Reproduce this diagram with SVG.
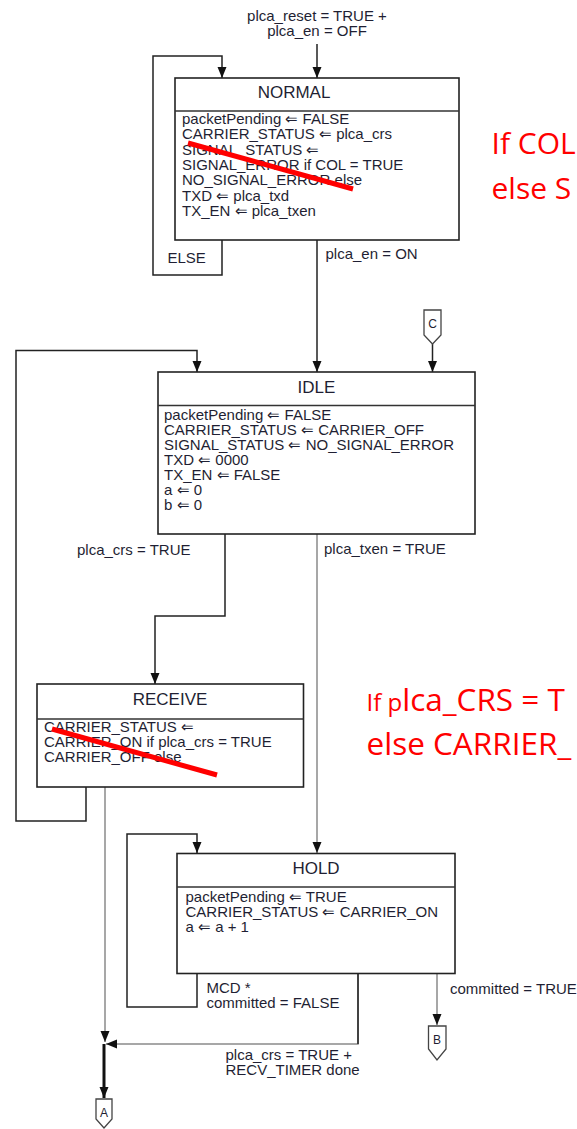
<svg xmlns="http://www.w3.org/2000/svg" width="577" height="1129" viewBox="0 0 577 1129">
<style>
.box{fill:#fff;stroke:#222;stroke-width:1.6}
.sep{stroke:#333;stroke-width:1.4}
.t{font-family:"Liberation Sans",Arial,sans-serif;font-size:15px;fill:#1f1f33}
.title{font-family:"Liberation Sans",Arial,sans-serif;font-size:17px;fill:#1f1f33;text-anchor:middle}
.lbl{font-family:"Liberation Sans",Arial,sans-serif;font-size:15px;fill:#1f1f33}
.cl{font-family:"Liberation Sans",Arial,sans-serif;font-size:12px;fill:#1f1f33;text-anchor:middle}
.e{fill:none;stroke:#222;stroke-width:1.5}
.g{fill:none;stroke:#8a8a8a;stroke-width:1.5}
.con{fill:#fff;stroke:#444;stroke-width:1.3}
.strike{stroke:#ff0000;stroke-width:5;stroke-linecap:butt}
.red{font-family:"Open Sans","Liberation Sans",sans-serif;font-size:30px;fill:#ff0000}
.red2{font-family:"Open Sans","Liberation Sans",sans-serif;font-size:31.5px;fill:#ff0000}
</style>
<defs>
<marker id="ah" markerUnits="userSpaceOnUse" markerWidth="11" markerHeight="10" refX="11" refY="5" orient="auto">
<path d="M0,0.5 L11,5 L0,9.5 z" fill="#111"/>
</marker>
</defs>

<g id="connectors">
<path class="e" d="M317,44 V78" marker-end="url(#ah)"/>
<path class="e" d="M222,240 V275 H153 V56 H222 V78" marker-end="url(#ah)"/>
<path class="e" d="M317,240 V372" marker-end="url(#ah)"/>
<path class="e" d="M432.5,344 V372" marker-end="url(#ah)"/>
<path class="e" d="M86,787 V821 H16 V350.5 H197 V372" marker-end="url(#ah)"/>
<path class="e" d="M225,534 V616 H155 V684" marker-end="url(#ah)"/>
<path class="g" d="M317,534 V853" marker-end="url(#ah)"/>
<path class="e" d="M197,973 V1007 H127 V834 H197 V853" marker-end="url(#ah)"/>
<path class="g" d="M437,973 V1025" marker-end="url(#ah)"/>
<path class="g" d="M105,787 V1042" marker-end="url(#ah)"/>
<path class="g" d="M358,973 V1044 H106" marker-end="url(#ah)"/>
<path class="e" d="M358,973 V1044"/>
<path fill="none" stroke="#111" stroke-width="3" d="M104,1044 V1098" marker-end="url(#ah)"/>
</g>

<g id="labels">
<text class="lbl" x="317" y="20.5" text-anchor="middle">plca_reset = TRUE +</text>
<text class="lbl" x="317" y="36" text-anchor="middle">plca_en = OFF</text>
<text class="lbl" x="167.5" y="262.5">ELSE</text>
<text class="lbl" x="325.5" y="258.5">plca_en = ON</text>
<text class="lbl" x="77" y="554.5">plca_crs = TRUE</text>
<text class="lbl" x="324" y="554">plca_txen = TRUE</text>
<text class="lbl" x="206.5" y="993">MCD *</text>
<text class="lbl" x="206.5" y="1008">committed = FALSE</text>
<text class="lbl" x="450" y="993.5">committed = TRUE</text>
<text class="lbl" x="225.5" y="1060">plca_crs = TRUE +</text>
<text class="lbl" x="225.5" y="1075">RECV_TIMER done</text>
</g>

<g id="normal">
<rect class="box" x="175" y="78" width="284" height="162"/>
<line class="sep" x1="175" y1="111" x2="459" y2="111"/>
<text class="title" x="294" y="97.5">NORMAL</text>
<text class="t" x="182" y="124">packetPending ⇐ FALSE</text>
<text class="t" x="182" y="139.3">CARRIER_STATUS ⇐ plca_crs</text>
<text class="t" x="182" y="154.6">SIGNAL_STATUS ⇐</text>
<text class="t" x="182" y="169.9">SIGNAL_ERROR if COL = TRUE</text>
<text class="t" x="182" y="185.2">NO_SIGNAL_ERROR else</text>
<text class="t" x="182" y="200.5">TXD ⇐ plca_txd</text>
<text class="t" x="182" y="215.8">TX_EN ⇐ plca_txen</text>
</g>

<g id="idle">
<rect class="box" x="158" y="372" width="317" height="162"/>
<line class="sep" x1="158" y1="405.5" x2="475" y2="405.5"/>
<text class="title" x="316.5" y="393">IDLE</text>
<text class="t" x="164" y="420">packetPending ⇐ FALSE</text>
<text class="t" x="164" y="435">CARRIER_STATUS ⇐ CARRIER_OFF</text>
<text class="t" x="164" y="450">SIGNAL_STATUS ⇐ NO_SIGNAL_ERROR</text>
<text class="t" x="164" y="465">TXD ⇐ 0000</text>
<text class="t" x="164" y="480">TX_EN ⇐ FALSE</text>
<text class="t" x="164" y="495">a ⇐ 0</text>
<text class="t" x="164" y="510">b ⇐ 0</text>
</g>

<g id="receive">
<rect class="box" x="37" y="684" width="266.5" height="103"/>
<line class="sep" x1="37" y1="719" x2="303.5" y2="719"/>
<text class="title" x="170" y="705">RECEIVE</text>
<text class="t" x="44" y="732">CARRIER_STATUS ⇐</text>
<text class="t" x="44" y="747">CARRIER_ON if plca_crs = TRUE</text>
<text class="t" x="44" y="762">CARRIER_OFF else</text>
</g>

<g id="hold">
<rect class="box" x="177" y="853.5" width="278" height="120"/>
<line class="sep" x1="177" y1="887" x2="455" y2="887"/>
<text class="title" x="316" y="874">HOLD</text>
<text class="t" x="185.5" y="902">packetPending ⇐ TRUE</text>
<text class="t" x="185.5" y="917">CARRIER_STATUS ⇐ CARRIER_ON</text>
<text class="t" x="185.5" y="932">a ⇐ a + 1</text>
</g>

<g id="conn-C">
<path class="con" d="M424,310 H441 V335 L432.5,344 L424,335 Z"/>
<text class="cl" x="432.5" y="327.5">C</text>
</g>
<g id="conn-B">
<path class="con" d="M428.5,1026 H446 V1049 L437,1060 L428.5,1049 Z"/>
<text class="cl" x="437" y="1044">B</text>
</g>
<g id="conn-A">
<path class="con" d="M96,1099 H112 V1119 L104,1128 L96,1119 Z"/>
<text class="cl" x="104" y="1117">A</text>
</g>

<g id="annotations">
<line class="strike" x1="188" y1="143" x2="353" y2="189"/>
<line class="strike" x1="52" y1="729" x2="217" y2="775"/>
<text class="red" x="491.5" y="153.5">If COL</text>
<text class="red" x="491.5" y="198.5">else S</text>
<text class="red2" x="366.5" y="711"><tspan font-size="24">If p</tspan>lca_CRS = T</text>
<text class="red2" x="366.5" y="755">else CARRIER_</text>
</g>
</svg>
